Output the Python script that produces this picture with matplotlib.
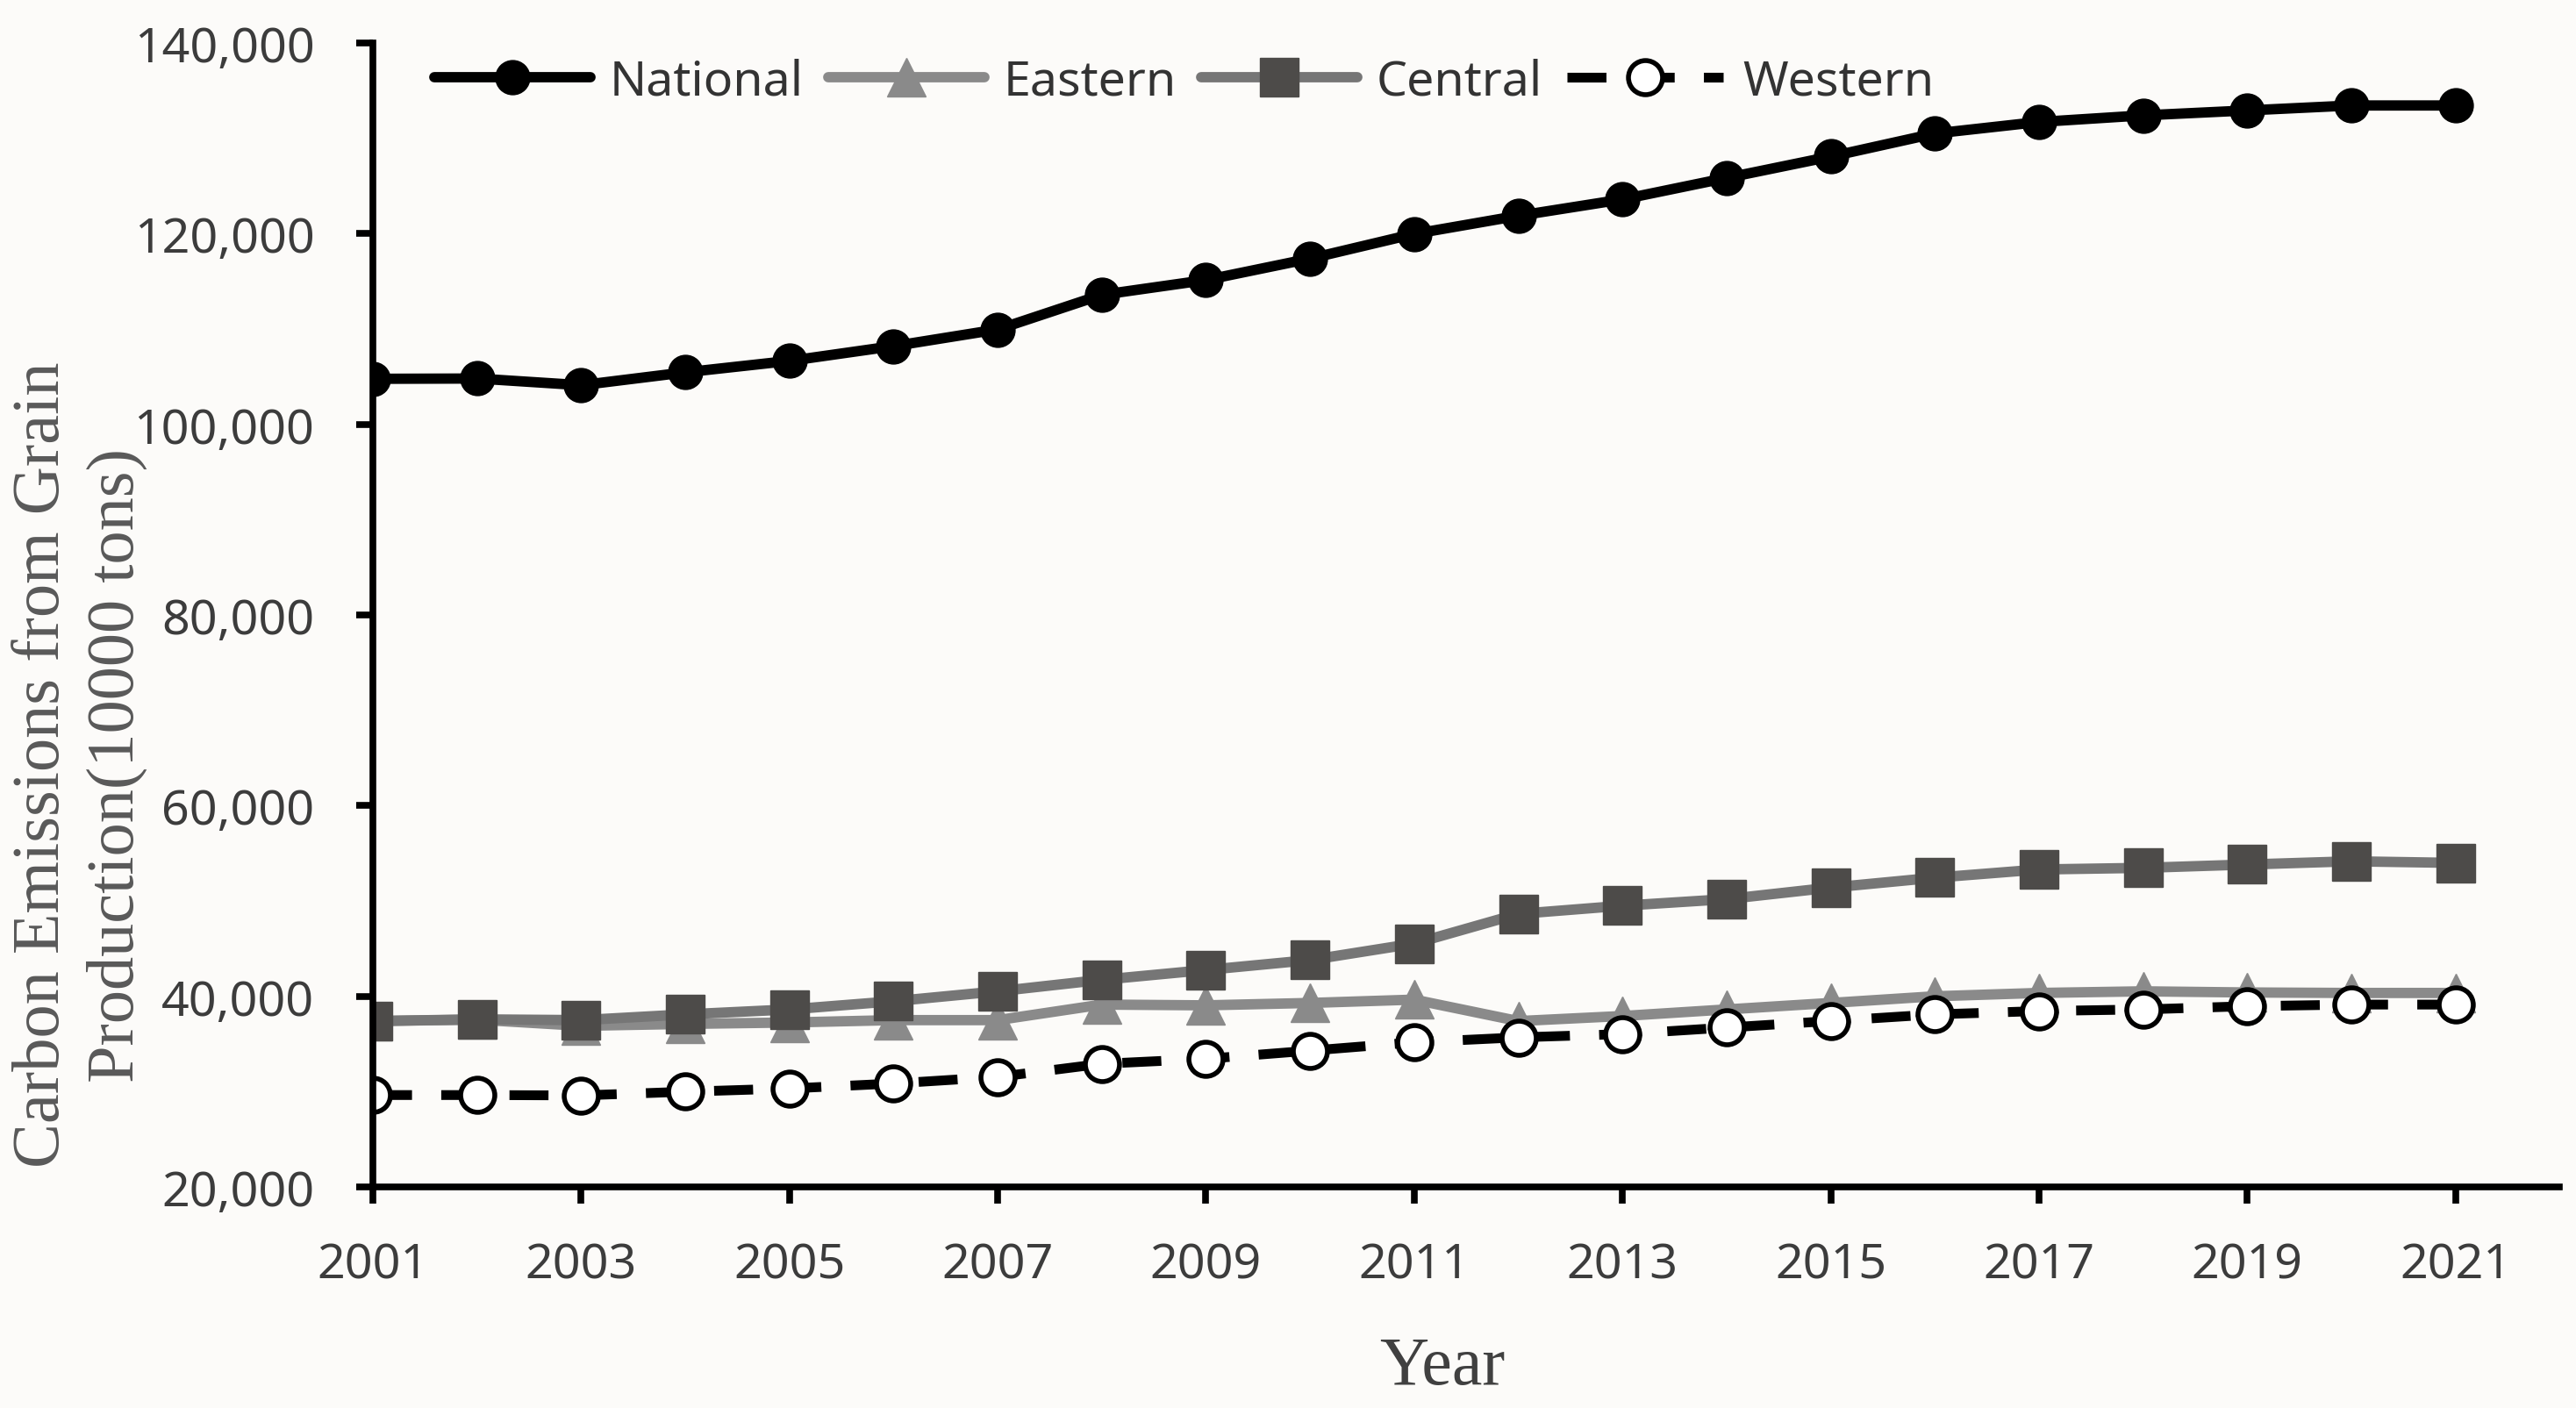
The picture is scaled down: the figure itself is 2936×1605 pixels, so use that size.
import matplotlib.pyplot as plt
import matplotlib.ticker as mticker

years = list(range(2001, 2022))

national = [104770, 104800, 104100, 105450, 106650, 108200, 109950, 113580, 115130, 117380,
            119970, 121870, 123590, 125840, 128080, 130500, 131710, 132400, 132920, 133440, 133440]
eastern = [37400, 37550, 36900, 37100, 37250, 37500, 37500, 39130, 39050, 39300,
           39650, 37400, 37930, 38620, 39300, 40000, 40350, 40520, 40400, 40350, 40350]
central = [37400, 37580, 37500, 38100, 38620, 39480, 40520, 41730, 42760, 43800,
           45530, 48640, 49500, 50190, 51400, 52440, 53300, 53470, 53820, 54160, 53990]
western = [29640, 29640, 29600, 29990, 30330, 30850, 31540, 32920, 33440, 34300,
           35170, 35690, 36030, 36720, 37410, 38100, 38450, 38620, 38960, 39130, 39130]

year_ticks = list(range(2001, 2022, 2))
value_ticks = list(range(20000, 140001, 20000))

bg = '#fcfbf9'
tick_font = 'Noto Sans'

fig = plt.figure(figsize=(29.36, 16.06), dpi=100, facecolor=bg)
ax = fig.add_axes([0.1448, 0.1569, 0.8488, 0.812], facecolor=bg)

ax.plot(years, national, color='black', lw=8.5, marker='o', ms=28,
        mfc='black', mec='black', label='National', solid_capstyle='round')
ax.plot(years, eastern, color='#8a8a8a', lw=8.5, marker='^', ms=32,
        mfc='#8a8a8a', mec='#8a8a8a', label='Eastern', solid_capstyle='round')
ax.plot(years, central, color='#767676', lw=8.5, marker='s', ms=32,
        mfc='#4d4b49', mec='#4d4b49', label='Central', solid_capstyle='round')
ax.plot(years, western, color='black', lw=8, ls=(0, (4, 3)), marker='o', ms=28,
        mfc='white', mec='black', mew=4, label='Western')

ax.set_xlim(2001, 2022)
ax.set_ylim(20000, 140000)
ax.set_xticks(year_ticks)
ax.set_yticks(value_ticks)
ax.yaxis.set_major_formatter(mticker.FuncFormatter(lambda v, p: f'{int(v):,}'))

for side in ['top', 'right']:
    ax.spines[side].set_visible(False)
for side in ['left', 'bottom']:
    ax.spines[side].set_linewidth(5.5)
    ax.spines[side].set_color('black')

ax.tick_params(axis='both', direction='out', length=14, width=5.5, colors='black',
               labelcolor='#3c3c3c', labelsize=40)
ax.tick_params(axis='y', pad=34)
ax.tick_params(axis='x', pad=30)
for lab in ax.get_xticklabels() + ax.get_yticklabels():
    lab.set_fontfamily(tick_font)

leg = ax.legend(loc='upper left', bbox_to_anchor=(0.008, 1.026), ncol=4, frameon=False,
                prop={'family': tick_font, 'size': 40}, handlelength=3.2,
                handletextpad=0.4, columnspacing=0.5, labelcolor='#333333')

fig.text(0.031, 0.457, 'Carbon Emissions from Grain\nProduction(10000 tons)',
         rotation=90, ha='center', va='center', multialignment='center',
         family='Liberation Serif', fontsize=55, color='#595959', linespacing=1.3)
fig.text(0.56, 0.029, 'Year', ha='center', va='center',
         family='Liberation Serif', fontsize=56, color='#404040')

fig.savefig('out.png', dpi=100, facecolor=bg)
